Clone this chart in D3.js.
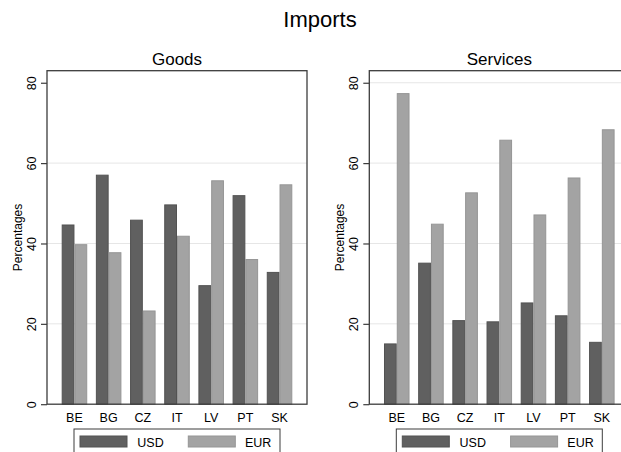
<!DOCTYPE html>
<html>
<head>
<meta charset="utf-8">
<script src="https://cdn.jsdelivr.net/npm/d3@7"></script>
<style>
  html, body { margin: 0; padding: 0; background: #fff; }
  svg { display: block; font-family: "Liberation Sans", Arial, sans-serif; }
</style>
</head>
<body>
<svg id="chart" width="621" height="452"></svg>
<script>
// ---- data ----
const countries = ["BE", "BG", "CZ", "IT", "LV", "PT", "SK"];
const seriesNames = ["USD", "EUR"];
const goodsUSD = [44.6, 57.0, 45.8, 49.6, 29.5, 51.9, 32.8];
const goodsEUR = [39.7, 37.7, 23.2, 41.8, 55.6, 36.0, 54.6];
const servicesUSD = [15.0, 35.1, 20.8, 20.5, 25.2, 22.0, 15.4];
const servicesEUR = [77.3, 44.8, 52.6, 65.7, 47.1, 56.3, 68.3];
const yTicks = [0, 20, 40, 60, 80];
const chartTitle = "Imports";
const panelTitles = ["Goods", "Services"];
const yLabel = "Percentages";

const panels = [
  { title: panelTitles[0], usd: goodsUSD, eur: goodsEUR, grid: [20, 40, 60] },
  { title: panelTitles[1], usd: servicesUSD, eur: servicesEUR, grid: [20, 40, 60, 80] }
];

const colors = { USD: "#606060", EUR: "#a3a3a3" };
const strokes = { USD: "#525252", EUR: "#959595" };
const frameColor = "#3c3c3c";

const svg = d3.select("#chart");

svg.append("text")
  .attr("x", 320).attr("y", 27)
  .attr("text-anchor", "middle")
  .attr("font-size", 22)
  .attr("fill", "#000")
  .text(chartTitle);

const plotW = 260, plotTop = 70.7, plotBottom = 404.2;
const y = d3.scaleLinear().domain([0, 83]).range([plotBottom, plotTop]);

panels.forEach((p, i) => {
  const x0 = 47 + i * 322.3;
  const g = svg.append("g").attr("transform", `translate(${x0},0)`);

  const x = d3.scaleBand().domain(countries).range([0, plotW])
    .paddingInner(0.253).paddingOuter(0.43);
  const xs = d3.scaleBand().domain(seriesNames).range([0, x.bandwidth()]);

  // gridlines
  g.selectAll("line.grid").data(p.grid).join("line")
    .attr("class", "grid")
    .attr("x1", 0).attr("x2", plotW)
    .attr("y1", d => y(d)).attr("y2", d => y(d))
    .attr("stroke", "#e6e6e6").attr("stroke-width", 1);

  // bars
  const rows = countries.map((c, k) => ({ c, USD: p.usd[k], EUR: p.eur[k] }));
  const grp = g.selectAll("g.grp").data(rows).join("g")
    .attr("transform", d => `translate(${x(d.c)},0)`);
  grp.selectAll("rect").data(d => seriesNames.map(s => ({ s, v: d[s] }))).join("rect")
    .attr("x", d => xs(d.s) + 0.5)
    .attr("width", xs.bandwidth() - 1)
    .attr("y", d => y(d.v))
    .attr("height", d => y(0) - y(d.v))
    .attr("fill", d => colors[d.s])
    .attr("stroke", d => strokes[d.s])
    .attr("stroke-width", 1);

  // frame
  g.append("rect")
    .attr("x", 0).attr("y", plotTop)
    .attr("width", plotW).attr("height", plotBottom - plotTop)
    .attr("fill", "none").attr("stroke", frameColor).attr("stroke-width", 1.3);

  // y axis
  const ya = g.append("g").call(d3.axisLeft(y).tickValues(yTicks).tickSize(6).tickFormat(d3.format("d")));
  ya.select(".domain").remove();
  ya.selectAll(".tick line").attr("stroke", frameColor).attr("stroke-width", 1.2);
  ya.selectAll(".tick text")
    .attr("x", 0).attr("y", -11.3).attr("dy", 0)
    .attr("transform", "rotate(-90)")
    .attr("text-anchor", "middle")
    .attr("font-size", 12.5)
    .attr("font-family", "Liberation Sans, Arial, sans-serif")
    .attr("fill", "#000");

  // x axis
  const xa = g.append("g").attr("transform", `translate(0,${plotBottom})`)
    .call(d3.axisBottom(x).tickSize(0));
  xa.select(".domain").remove();
  xa.selectAll(".tick text")
    .attr("y", 17.5).attr("dy", 0)
    .attr("font-size", 12.5)
    .attr("font-family", "Liberation Sans, Arial, sans-serif")
    .attr("fill", "#000");

  // y label
  g.append("text")
    .attr("transform", `translate(-25.5,${(plotTop + plotBottom) / 2}) rotate(-90)`)
    .attr("text-anchor", "middle")
    .attr("font-size", 12)
    .attr("fill", "#000")
    .text(yLabel);

  // panel title
  g.append("text")
    .attr("x", plotW / 2).attr("y", 65)
    .attr("text-anchor", "middle")
    .attr("font-size", 17)
    .attr("fill", "#000")
    .text(p.title);

  // legend
  const lg = g.append("g").attr("transform", "translate(27,429)");
  lg.append("rect").attr("x", 0).attr("y", 0).attr("width", 206).attr("height", 25)
    .attr("fill", "#fff").attr("stroke", frameColor).attr("stroke-width", 1);
  const items = [
    { s: "USD", sx: 6, tx: 63.3 },
    { s: "EUR", sx: 114.3, tx: 171 }
  ];
  items.forEach(it => {
    lg.append("rect").attr("x", it.sx).attr("y", 7).attr("width", 47).attr("height", 11)
      .attr("fill", colors[it.s]).attr("stroke", strokes[it.s]).attr("stroke-width", 1);
    lg.append("text").attr("x", it.tx).attr("y", 17.5)
      .attr("font-size", 12.5).attr("fill", "#000").text(it.s);
  });
});
</script>
</body>
</html>
